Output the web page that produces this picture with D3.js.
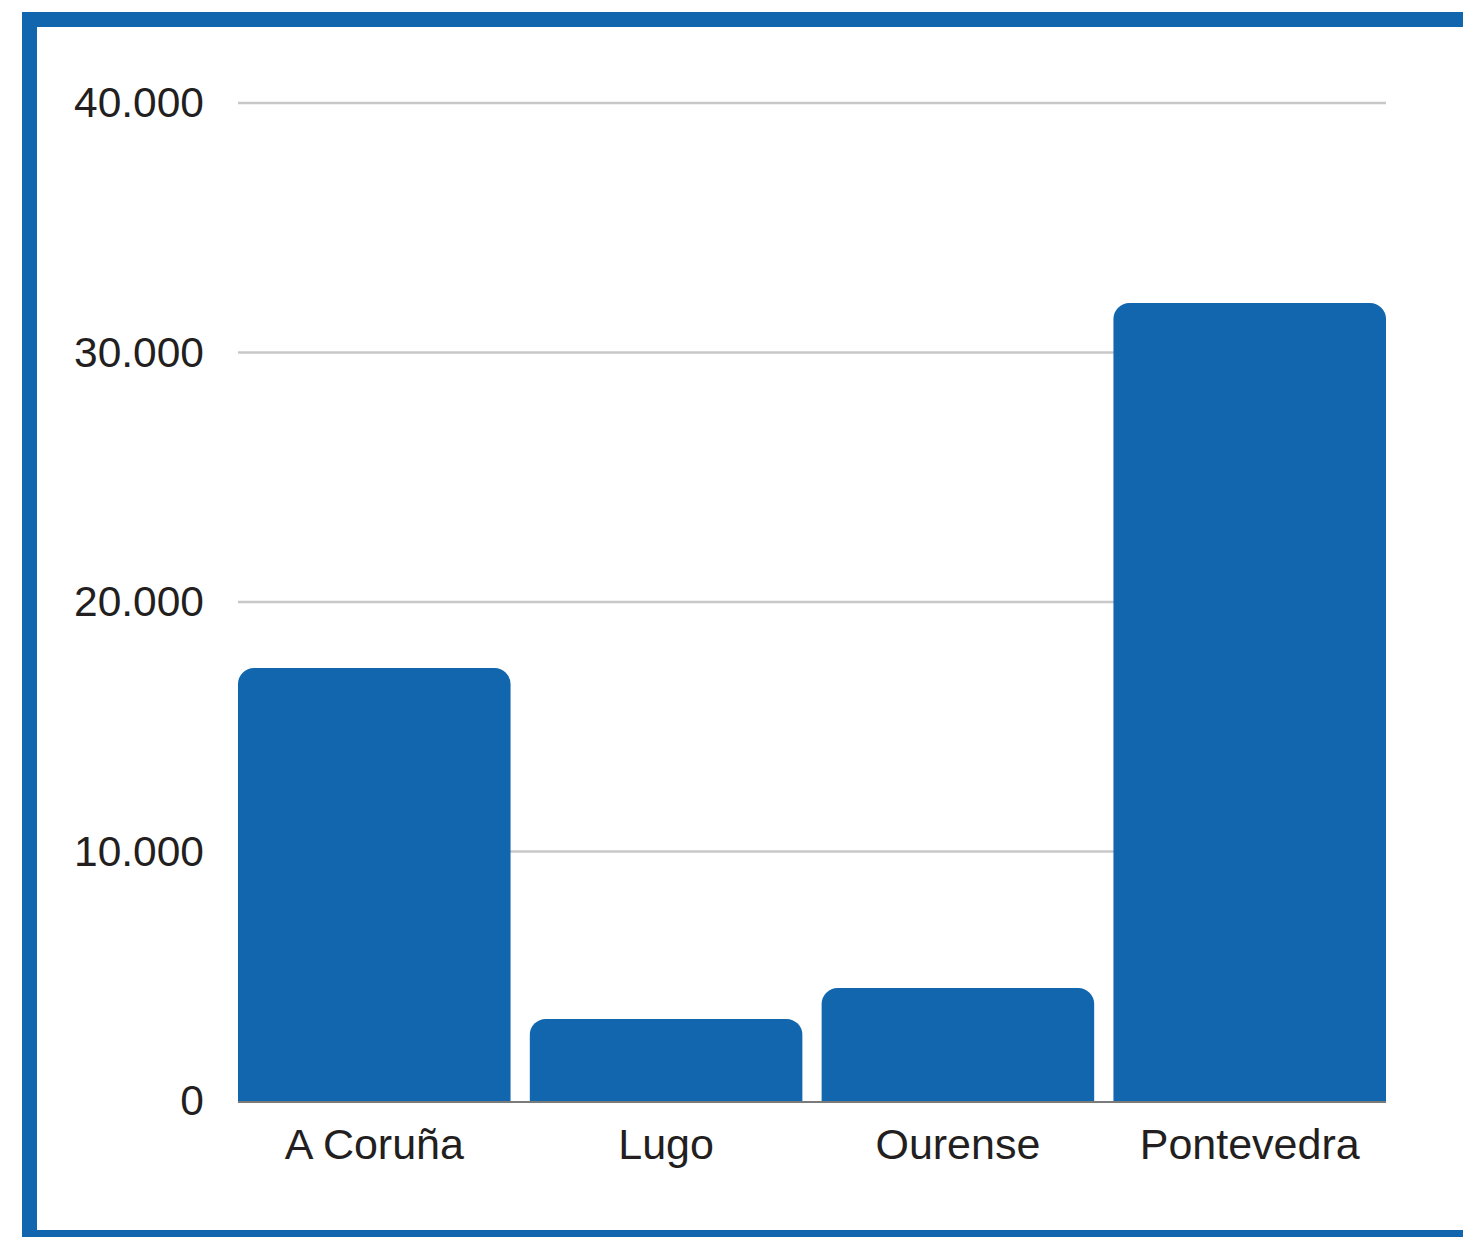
<!DOCTYPE html>
<html>
<head>
<meta charset="utf-8">
<script src="https://cdn.jsdelivr.net/npm/d3@7"></script>
<style>
  html, body { margin: 0; padding: 0; background: #fff; }
  svg { display: block; }
</style>
</head>
<body>
<svg id="chart" width="1463" height="1237"></svg>
<script>
const categories = ["A Coruña", "Lugo", "Ourense", "Pontevedra"];
const values = [17350, 3290, 4530, 31980];
const tickValues = [0, 10000, 20000, 30000, 40000];
const tickLabels = ["0", "10.000", "20.000", "30.000", "40.000"];

const svg = d3.select("#chart");
const color = "#1266ad";
const font = "'Liberation Sans', Arial, sans-serif";

// frame border
svg.append("rect")
  .attr("x", 29.5).attr("y", 19.5)
  .attr("width", 1500).attr("height", 1218)
  .attr("fill", "#fff")
  .attr("stroke", color).attr("stroke-width", 15);

const x = d3.scaleBand().domain(categories).range([238, 1386])
  .paddingInner(0.066).paddingOuter(0);
const y = d3.scaleLinear().domain([0, 40000]).range([1101, 103]);

// gridlines
svg.append("g").selectAll("line").data(tickValues.filter(v => v > 0)).join("line")
  .attr("x1", 238).attr("x2", 1386)
  .attr("y1", d => y(d)).attr("y2", d => y(d))
  .attr("stroke", "#c8c8c8").attr("stroke-width", 2.5);

// y labels
svg.append("g").selectAll("text").data(tickValues).join("text")
  .attr("x", 204).attr("y", d => y(d)).attr("dy", "0.33em")
  .attr("text-anchor", "end")
  .attr("font-family", font).attr("font-size", 42.5).attr("fill", "#231f20")
  .text((d, i) => tickLabels[i]);

// bars with rounded top corners
const r = 16;
function barPath(x0, w, yt, yb) {
  const rr = Math.min(r, (yb - yt));
  return `M${x0},${yb}V${yt + rr}A${rr},${rr} 0 0 1 ${x0 + rr},${yt}H${x0 + w - rr}A${rr},${rr} 0 0 1 ${x0 + w},${yt + rr}V${yb}Z`;
}
svg.append("g").selectAll("path").data(categories).join("path")
  .attr("d", (c, i) => barPath(x(c), x.bandwidth(), y(values[i]), y(0)))
  .attr("fill", color);

// baseline
svg.append("line")
  .attr("x1", 238).attr("x2", 1386)
  .attr("y1", y(0) + 1).attr("y2", y(0) + 1)
  .attr("stroke", "#7a7a7a").attr("stroke-width", 2);

// category labels
svg.append("g").selectAll("text").data(categories).join("text")
  .attr("x", c => x(c) + x.bandwidth() / 2).attr("y", 1159)
  .attr("text-anchor", "middle")
  .attr("font-family", font).attr("font-size", 43).attr("fill", "#231f20")
  .text(c => c);
</script>
</body>
</html>
